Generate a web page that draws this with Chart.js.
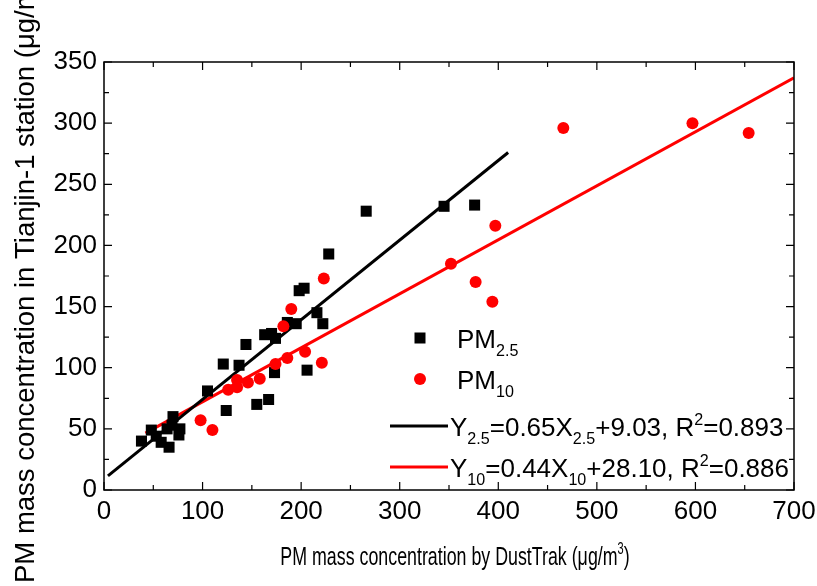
<!DOCTYPE html>
<html>
<head>
<meta charset="utf-8">
<script src="https://cdn.jsdelivr.net/npm/chart.js@4.4.1/dist/chart.umd.min.js"></script>
<style>
  html, body { margin: 0; padding: 0; background: #fff; }
  canvas { display: block; }
</style>
</head>
<body>
<canvas id="chart" width="817" height="586"></canvas>
<script>
// ── DATA ────────────────────────────────────────
const pm25X = [38, 48, 53, 58, 66, 64, 69, 70, 77, 76, 105, 124, 121, 137, 144, 155, 167, 163, 170, 174, 173, 186, 195, 198, 203, 216, 222, 206, 228, 266, 345, 376];
const pm25Y = [40, 49, 44, 39, 35, 50, 53, 60, 50, 45, 81, 65, 103, 102, 119, 70, 74, 127, 128, 124, 96, 137, 136, 163, 165, 145, 136, 98, 193, 228, 232, 233];

const pm10X = [98, 110, 126, 135, 135, 146, 158, 174, 186, 204, 221, 182, 190, 223, 352, 377, 394, 397, 466, 597, 654];
const pm10Y = [57, 49, 82, 90, 84, 88, 91, 103, 108, 113, 104, 134, 148, 173, 185, 170, 154, 216, 296, 300, 292];

// fitted lines, end points
const fit25X = [4, 410];
const fit25Y = [11.6, 276];
const fit10X = [42, 700];
const fit10Y = [46.5, 337];

const xTicks = [0, 100, 200, 300, 400, 500, 600, 700];
const yTicks = [0, 50, 100, 150, 200, 250, 300, 350];

const toPts = (xs, ys) => xs.map((x, i) => ({ x, y: ys[i] }));

// ── FONTS ───────────────────────────────────────
const SANS   = "'Liberation Sans', Arial, sans-serif";
const NARROW = "'Liberation Sans Narrow', 'Arial Narrow', 'Liberation Sans', sans-serif";

// draw text with sub/superscripts, returns width
function richText(ctx, parts, x, y, size, family, scaleX) {
  scaleX = scaleX || 1;
  let cx = x;
  parts.forEach(p => {
    let s = size, dy = 0;
    if (p.sub) { s = size * 0.62; dy = size * 0.32; }
    if (p.sup) { s = size * 0.62; dy = -size * 0.42; }
    ctx.font = `${s}px ${family}`;
    ctx.save();
    ctx.translate(cx, y + dy);
    ctx.scale(scaleX, 1);
    ctx.fillText(p.t, 0, 0);
    ctx.restore();
    cx += ctx.measureText(p.t).width * scaleX;
  });
  return cx - x;
}
function richWidth(ctx, parts, size, family, scaleX) {
  scaleX = scaleX || 1;
  let w = 0;
  parts.forEach(p => {
    const s = (p.sub || p.sup) ? size * 0.62 : size;
    ctx.font = `${s}px ${family}`;
    w += ctx.measureText(p.t).width * scaleX;
  });
  return w;
}

// ── FRAME + INWARD TICKS ────────────────────────
const framePlugin = {
  id: 'frame',
  afterDatasetsDraw(chart) {
    const { ctx, chartArea: a, scales: { x, y } } = chart;
    ctx.save();
    ctx.strokeStyle = '#000';
    ctx.lineWidth = 1.5;
    ctx.strokeRect(a.left, a.top, a.right - a.left, a.bottom - a.top);
    ctx.lineWidth = 1.2;
    ctx.beginPath();
    for (let v = 0; v <= 700; v += 50) {
      const px = x.getPixelForValue(v);
      const len = v % 100 === 0 ? 8 : 5;
      ctx.moveTo(px, a.bottom); ctx.lineTo(px, a.bottom - len);
      ctx.moveTo(px, a.top);    ctx.lineTo(px, a.top + len);
    }
    for (let v = 0; v <= 350; v += 25) {
      const py = y.getPixelForValue(v);
      const len = v % 50 === 0 ? 8 : 5;
      ctx.moveTo(a.left, py);  ctx.lineTo(a.left + len, py);
      ctx.moveTo(a.right, py); ctx.lineTo(a.right - len, py);
    }
    ctx.stroke();
    ctx.restore();
  }
};

// ── AXIS TITLES + LEGEND ────────────────────────
const textPlugin = {
  id: 'texts',
  afterDraw(chart) {
    const { ctx } = chart;
    ctx.save();
    ctx.fillStyle = '#000';
    ctx.textBaseline = 'alphabetic';
    ctx.textAlign = 'left';

    // x title (condensed look)
    const xt = [{ t: 'PM mass concentration by DustTrak (μg/m' }, { t: '3', sup: true }, { t: ')' }];
    const xw = richWidth(ctx, xt, 26, SANS, 0.685);
    richText(ctx, xt, 455 - xw / 2, 565, 26, SANS, 0.685);

    // y title
    ctx.save();
    ctx.translate(34, 583);
    ctx.rotate(-Math.PI / 2);
    richText(ctx, [{ t: 'PM mass concentration in Tianjin-1 station (μg/m' }, { t: '3', sup: true }, { t: ')' }], 0, 0, 27.5, SANS);
    ctx.restore();

    // legend
    ctx.fillStyle = '#000';
    ctx.fillRect(420 - 5.5, 338 - 5.5, 11, 11);
    ctx.fillStyle = '#ff0000';
    ctx.beginPath(); ctx.arc(420, 379, 6, 0, Math.PI * 2); ctx.fill();
    ctx.lineWidth = 3;
    ctx.strokeStyle = '#000';
    ctx.beginPath(); ctx.moveTo(390, 426); ctx.lineTo(448, 426); ctx.stroke();
    ctx.strokeStyle = '#ff0000';
    ctx.beginPath(); ctx.moveTo(390, 467); ctx.lineTo(448, 467); ctx.stroke();

    ctx.fillStyle = '#000';
    richText(ctx, [{ t: 'PM' }, { t: '2.5', sub: true }], 457, 348, 26, SANS);
    richText(ctx, [{ t: 'PM' }, { t: '10', sub: true }], 457, 389, 26, SANS);
    richText(ctx, [{ t: 'Y' }, { t: '2.5', sub: true }, { t: '=0.65X' }, { t: '2.5', sub: true },
                   { t: '+9.03, R' }, { t: '2', sup: true }, { t: '=0.893' }], 450, 436, 26, SANS);
    richText(ctx, [{ t: 'Y' }, { t: '10', sub: true }, { t: '=0.44X' }, { t: '10', sub: true },
                   { t: '+28.10, R' }, { t: '2', sup: true }, { t: '=0.886' }], 450, 477, 26, SANS);
    ctx.restore();
  }
};

// ── CHART ───────────────────────────────────────
new Chart(document.getElementById('chart'), {
  type: 'scatter',
  data: {
    datasets: [
      {
        label: 'PM10',
        data: toPts(pm10X, pm10Y),
        pointStyle: 'circle',
        pointRadius: 6,
        backgroundColor: '#ff0000',
        borderWidth: 0
      },
      {
        label: 'PM2.5',
        data: toPts(pm25X, pm25Y),
        pointStyle: 'rect',
        pointRadius: 7.8,
        backgroundColor: '#000',
        borderWidth: 0
      },
      {
        label: 'fit PM2.5',
        data: toPts(fit25X, fit25Y),
        showLine: true,
        pointRadius: 0,
        borderColor: '#000',
        borderWidth: 3
      },
      {
        label: 'fit PM10',
        data: toPts(fit10X, fit10Y),
        showLine: true,
        pointRadius: 0,
        borderColor: '#ff0000',
        borderWidth: 3
      }
    ]
  },
  options: {
    responsive: false,
    animation: false,
    layout: { padding: { top: 62, right: 23, left: 0, bottom: 0 } },
    plugins: { legend: { display: false }, tooltip: { enabled: false } },
    scales: {
      x: {
        type: 'linear', min: 0, max: 700,
        afterBuildTicks: s => { s.ticks = xTicks.map(v => ({ value: v })); },
        afterFit: s => { s.height = 96; s.paddingLeft = 0; s.paddingRight = 0; },
        grid: { display: false, drawTicks: false },
        border: { display: false },
        ticks: { color: '#000', padding: 6, maxRotation: 0, font: { family: NARROW, size: 26 } }
      },
      y: {
        type: 'linear', min: 0, max: 350,
        afterBuildTicks: s => { s.ticks = yTicks.map(v => ({ value: v })); },
        afterFit: s => { s.width = 104; s.paddingTop = 0; s.paddingBottom = 0; },
        grid: { display: false, drawTicks: false },
        border: { display: false },
        ticks: { color: '#000', padding: 7, font: { family: SANS, size: 26 } }
      }
    }
  },
  plugins: [framePlugin, textPlugin]
});
</script>
</body>
</html>
